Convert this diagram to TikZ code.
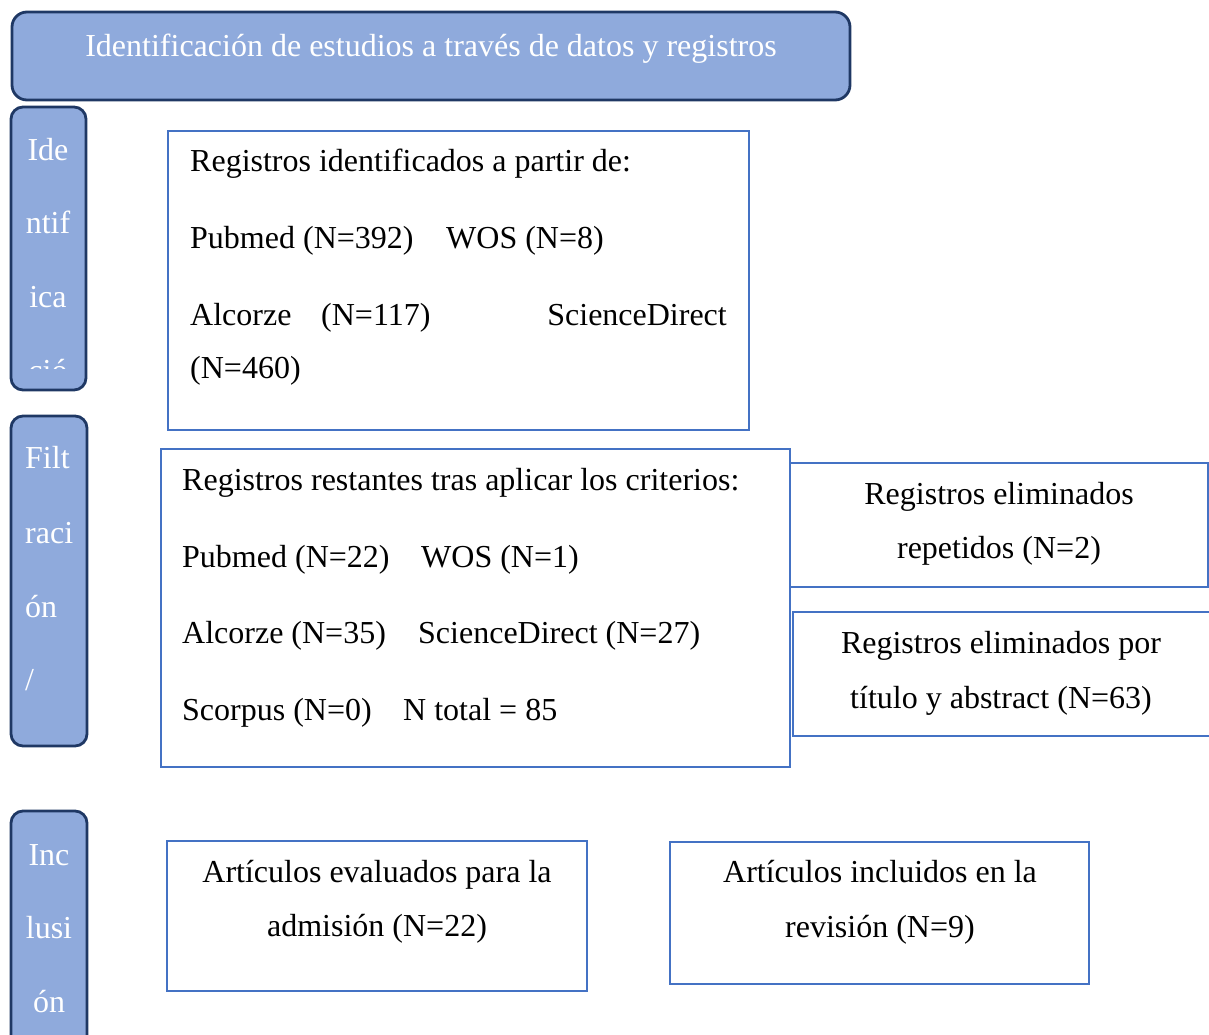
\documentclass[tikz,border=0pt]{standalone}
\usepackage{fontspec}
\setmainfont{Liberation Serif}
\definecolor{tabfill}{HTML}{8FAADC}
\definecolor{tabline}{HTML}{1F3864}
\definecolor{boxline}{HTML}{4472C4}
\begin{document}
\begin{tikzpicture}[x=1pt,y=-1pt,
  tab/.style={draw=tabline, fill=tabfill, line width=2.8pt, rounded corners=12pt, inner sep=0pt},
  box/.style={draw=boxline, line width=2.5pt, inner sep=0pt},
  txt/.style={inner sep=0pt, font=\fontsize{32}{38}\selectfont, anchor=base west},
  ctxt/.style={txt, anchor=base},
  etxt/.style={txt, anchor=base east},
  wtxt/.style={ctxt, text=white},
  wltxt/.style={txt, text=white}]
\clip (0,0) rectangle (1209,1034);
% header
\node[tab, rounded corners=15pt, minimum width=838pt, minimum height=88pt] (head) at (431,56) {};
\node[wtxt] (headt) at (431,56) {Identificación de estudios a través de datos y registros};
% tabs
\node[tab, minimum width=75pt, minimum height=283pt] (tabI) at (48.5,248.5) {};
\node[tab, minimum width=76pt, minimum height=330pt] (tabF) at (49,581) {};
\node[tab, minimum width=76pt, minimum height=259pt] (tabN) at (49,940.5) {};
\node[wtxt] (tI1) at (48,160) {Ide};
\node[wtxt] (tI2) at (48,233) {ntif};
\node[wtxt] (tI3) at (48,307) {ica};
\begin{scope}
  \clip (11,107) rectangle (86,368);
  \node[wtxt] (tI4) at (48,381) {ció};
\end{scope}
\node[wltxt] (tF1) at (25,468) {Filt};
\node[wltxt] (tF2) at (25,543) {raci};
\node[wltxt] (tF3) at (25,617) {ón};
\node[wltxt] (tF4) at (25,690) {/};
\node[wtxt] (tN1) at (49,865) {Inc};
\node[wtxt] (tN2) at (49,938) {lusi};
\node[wtxt] (tN3) at (49,1012) {ón};
% box A
\node[box, minimum width=581pt, minimum height=299pt] (boxA) at (458.5,280.5) {};
\node[txt] (a1) at (190,171) {Registros identificados a partir de:};
\node[txt] (a2) at (190,248) {Pubmed (N=392)};
\node[txt] (a3) at (446,248) {WOS (N=8)};
\node[txt] (a4) at (190,325) {Alcorze};
\node[txt] (a5) at (321,325) {(N=117)};
\node[etxt] (a6) at (727,325) {ScienceDirect};
\node[txt] (a7) at (190,378) {(N=460)};
% box B
\node[box, minimum width=629pt, minimum height=318pt] (boxB) at (475.5,608) {};
\node[txt] (b1) at (182,490) {Registros restantes tras aplicar los criterios:};
\node[txt] (b2) at (182,567) {Pubmed (N=22)};
\node[txt] (b3) at (421,567) {WOS (N=1)};
\node[txt] (b4) at (182,643) {Alcorze (N=35)};
\node[txt] (b5) at (418,643) {ScienceDirect (N=27)};
\node[txt] (b6) at (182,720) {Scorpus (N=0)};
\node[txt] (b7) at (403,720) {N total = 85};
% box C, D
\node[box, fill=white, minimum width=418pt, minimum height=124pt] (boxC) at (999,525) {};
\node[ctxt] (c1) at (999,504) {Registros eliminados};
\node[ctxt] (c2) at (999,558) {repetidos (N=2)};
\node[box, fill=white, minimum width=437pt, minimum height=124pt] (boxD) at (1011.5,674) {};
\node[ctxt] (d1) at (1001,653) {Registros eliminados por};
\node[ctxt] (d2) at (1001,708) {título y abstract (N=63)};
% box E, F
\node[box, minimum width=420pt, minimum height=150pt] (boxE) at (377,916) {};
\node[ctxt] (e1) at (377,882) {Artículos evaluados para la};
\node[ctxt] (e2) at (377,936) {admisión (N=22)};
\node[box, minimum width=419pt, minimum height=142pt] (boxF) at (879.5,913) {};
\node[ctxt] (f1) at (880,882) {Artículos incluidos en la};
\node[ctxt] (f2) at (880,937) {revisión (N=9)};
\end{tikzpicture}
\end{document}
